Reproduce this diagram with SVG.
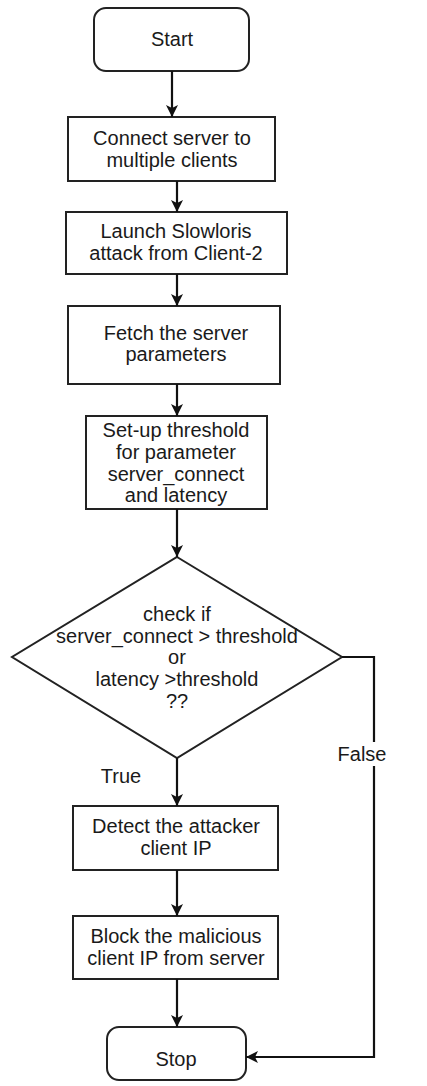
<svg xmlns="http://www.w3.org/2000/svg" width="427" height="1086" viewBox="0 0 427 1086">
  <style>
    .box { fill: #ffffff; stroke: #222222; stroke-width: 2; }
    .lbl { font-family: "Liberation Sans", Arial, sans-serif; font-size: 20px; fill: #1a1a1a; text-anchor: middle; }
    .edge { fill: none; stroke: #111111; stroke-width: 2.2; }
  </style>
  <defs>
    <marker id="arrow" viewBox="0 0 12 12" refX="12" refY="6" markerWidth="12" markerHeight="12" markerUnits="userSpaceOnUse" orient="auto">
      <path d="M0,0 L12,6 L0,12 L3,6 Z" fill="#111111"/>
    </marker>
  </defs>
  <rect width="427" height="1086" fill="#ffffff"/>

  <g id="start">
    <rect class="box" x="94" y="8" width="155" height="63" rx="12"/>
    <text class="lbl" x="172" y="46">Start</text>
  </g>
  <g id="connect">
    <rect class="box" x="68" y="117" width="207" height="64"/>
    <text class="lbl" x="172" y="145">Connect server to</text>
    <text class="lbl" x="172" y="167">multiple clients</text>
  </g>
  <g id="launch">
    <rect class="box" x="66" y="212" width="221" height="62"/>
    <text class="lbl" x="176" y="238">Launch Slowloris</text>
    <text class="lbl" x="176" y="260">attack from Client-2</text>
  </g>
  <g id="fetch">
    <rect class="box" x="68" y="306" width="212" height="78"/>
    <text class="lbl" x="176" y="340">Fetch the server</text>
    <text class="lbl" x="176" y="361">parameters</text>
  </g>
  <g id="setup">
    <rect class="box" x="86" y="416" width="181" height="93"/>
    <text class="lbl" x="176" y="437">Set-up threshold</text>
    <text class="lbl" x="176" y="459">for parameter</text>
    <text class="lbl" x="176" y="481">server_connect</text>
    <text class="lbl" x="176" y="502">and latency</text>
  </g>
  <g id="decision">
    <polygon class="box" points="177,557 342,657 177,758 12,657"/>
    <text class="lbl" x="177" y="621">check if</text>
    <text class="lbl" x="177" y="643">server_connect &gt; threshold</text>
    <text class="lbl" x="177" y="664">or</text>
    <text class="lbl" x="177" y="686">latency &gt;threshold</text>
    <text class="lbl" x="177" y="708">??</text>
  </g>
  <g id="detect">
    <rect class="box" x="73" y="806" width="205" height="64"/>
    <text class="lbl" x="176" y="833">Detect the attacker</text>
    <text class="lbl" x="176" y="855">client IP</text>
  </g>
  <g id="block">
    <rect class="box" x="73" y="916" width="205" height="63"/>
    <text class="lbl" x="176" y="943">Block the malicious</text>
    <text class="lbl" x="176" y="965">client IP from server</text>
  </g>
  <g id="stop">
    <rect class="box" x="107" y="1027" width="139" height="53" rx="12"/>
    <text class="lbl" x="176" y="1066">Stop</text>
  </g>

  <g id="connectors">
    <path class="edge" d="M172,71 V117" marker-end="url(#arrow)"/>
    <path class="edge" d="M177,181 V212" marker-end="url(#arrow)"/>
    <path class="edge" d="M177,274 V306" marker-end="url(#arrow)"/>
    <path class="edge" d="M177,384 V416" marker-end="url(#arrow)"/>
    <path class="edge" d="M177,509 V557" marker-end="url(#arrow)"/>
    <path class="edge" d="M177,758 V806" marker-end="url(#arrow)"/>
    <path class="edge" d="M177,870 V916" marker-end="url(#arrow)"/>
    <path class="edge" d="M177,979 V1027" marker-end="url(#arrow)"/>
    <path class="edge" d="M342,657 H374 V1057 H246" marker-end="url(#arrow)"/>
    <rect x="338" y="742" width="48" height="24" fill="#ffffff"/>
    <text class="lbl" x="362" y="761">False</text>
    <text class="lbl" x="121" y="783">True</text>
  </g>
</svg>
